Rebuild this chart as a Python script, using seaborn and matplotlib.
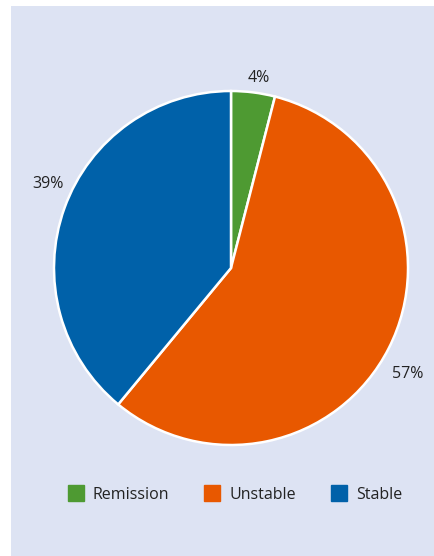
import matplotlib
matplotlib.use("Agg")
import matplotlib.pyplot as plt
import seaborn as sns
from matplotlib.patches import Rectangle
from matplotlib.lines import Line2D

sns.set_theme(style="white")
plt.rcParams['font.family'] = ['Open Sans', 'DejaVu Sans']

categories = ["Remission", "Unstable", "Stable"]
values = [4, 57, 39]
colors = ["#4e9a32", "#e85800", "#0061a9"]
bg = "#dde3f3"

W, H = 435, 556
fig = plt.figure(figsize=(W / 100, H / 100), dpi=100)
fig.patch.set_facecolor("white")
fig.patches.append(Rectangle((11 / W, 0), (W - 11) / W, (H - 6) / H,
                             transform=fig.transFigure, facecolor=bg,
                             edgecolor="none", zorder=-10))

cx, cy, r = 231, 268, 177
ax = fig.add_axes([(cx - r) / W, (H - cy - r) / H, 2 * r / W, 2 * r / H])
ax.set_facecolor("none")
ax.set_zorder(5)
wedges, texts = ax.pie(values, colors=colors, startangle=90, counterclock=False,
                       radius=1, labels=[f"{v}%" for v in values],
                       labeldistance=1.12,
                       wedgeprops=dict(edgecolor="white", linewidth=1.8),
                       textprops=dict(fontsize=11.5, color="#222222"))
# label placement (layout, in units of the radius)
label_pos = [(0.155, 1.075), (1.0, -0.60), (-1.035, 0.475)]
for t, p in zip(texts, label_pos):
    t.set_position(p)
    t.set_horizontalalignment("center")
    t.set_verticalalignment("center")
ax.set_xlim(-1, 1)
ax.set_ylim(-1, 1)
ax.set_aspect("equal")
ax.axis("off")

handles = [Line2D([], [], marker="s", linestyle="none", markersize=11.5,
                  markerfacecolor=c, markeredgecolor=c) for c in colors]
fig.legend(handles, categories, loc="center", bbox_to_anchor=(235 / W, 1 - 495 / H),
           ncol=3, frameon=False, fontsize=11.5, handletextpad=0.55,
           columnspacing=2.2, handlelength=1.0, labelcolor="#222222")

fig.savefig("out.png", dpi=100, facecolor=fig.get_facecolor())
